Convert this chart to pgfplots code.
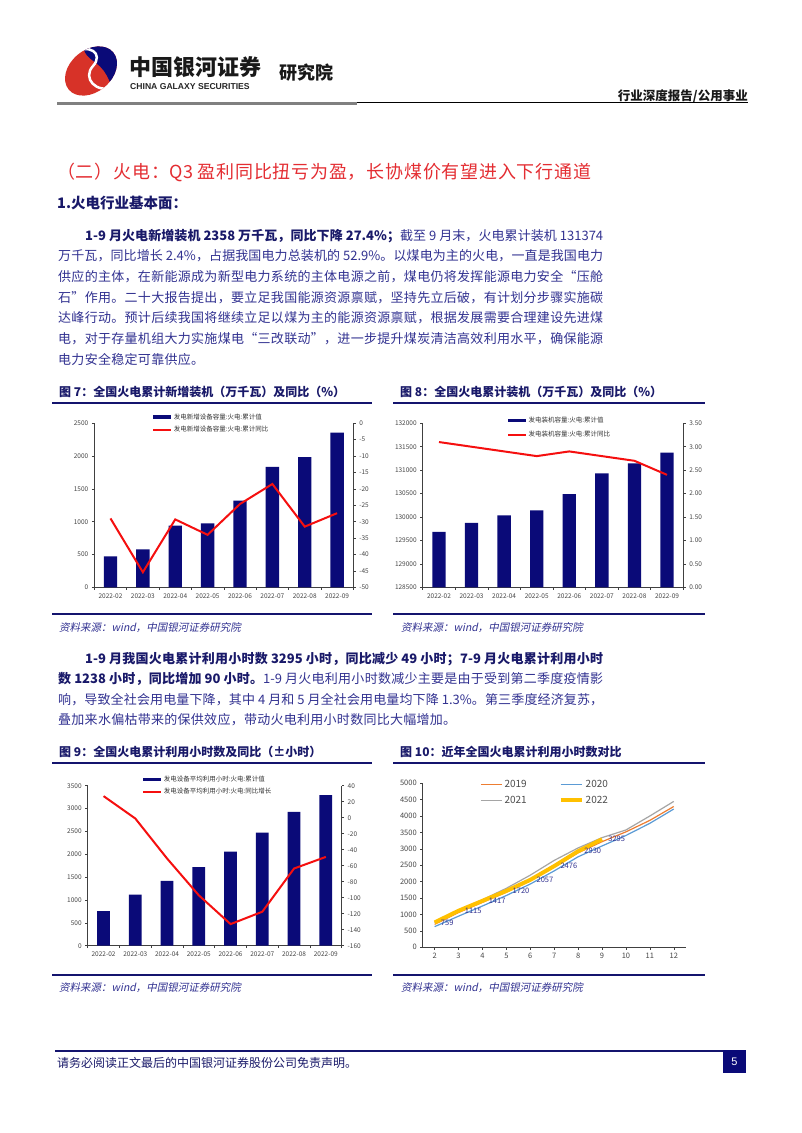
\documentclass[border=0pt]{standalone}
\usepackage{pgfplots}
\pgfplotsset{compat=1.18}
\usepackage{fontspec}
\setmainfont{Noto Sans CJK SC}
\newfontfamily\srcfont[FakeSlant=0.2]{Noto Sans CJK SC}
\newfontfamily\arialfont{Liberation Sans}
% inter-character glue for CJK so lines can be justified
\XeTeXinterchartokenstate=1
\newcount\cc
\cc="3000 \loop\ifnum\cc<"3040 \XeTeXcharclass\cc=1 \advance\cc by 1 \repeat
\cc="4E00 \loop\ifnum\cc<"A000 \XeTeXcharclass\cc=1 \advance\cc by 1 \repeat
\cc="FF00 \loop\ifnum\cc<"FFF0 \XeTeXcharclass\cc=1 \advance\cc by 1 \repeat
\XeTeXcharclass"201C=1 \XeTeXcharclass"201D=1
\XeTeXinterchartoks 1 1 = {\hskip 0pt plus 3pt\relax}
\XeTeXinterchartoks 0 1 = {\hskip 0pt plus 3pt\relax}
\XeTeXinterchartoks 1 0 = {\hskip 0pt plus 3pt\relax}

\definecolor{navybar}{RGB}{10,10,120}
\definecolor{navyline}{RGB}{20,20,110}
\definecolor{bodyblue}{RGB}{50,50,145}
\definecolor{boldblue}{RGB}{25,25,105}
\definecolor{titlered}{RGB}{228,45,50}
\definecolor{ticktext}{RGB}{70,70,70}
\definecolor{logored}{RGB}{215,50,40}
\definecolor{linered}{RGB}{245,15,15}
\definecolor{c2019}{RGB}{237,125,49}
\definecolor{c2020}{RGB}{91,155,213}
\definecolor{c2021}{RGB}{165,165,165}
\definecolor{c2022}{RGB}{255,192,0}

\pgfplotsset{
  rep/.style={
    scale only axis,
    tick label style={font=\fontsize{6.5}{7}\selectfont, text=ticktext},
    /pgf/number format/assume math mode=true,
    /pgf/number format/1000 sep={},
    scaled y ticks=false,
    axis line style={draw=black!75, line width=0.6pt},
    every tick/.style={draw=black!75, line width=0.5pt},
    major tick length=2.5pt,
    tick align=outside,
  },
  catx/.style={xmin=-0.5, xmax=7.5, xtick={-0.5,0.5,...,7.5}, x tick label as interval,
    xticklabels={2022-02,2022-03,2022-04,2022-05,2022-06,2022-07,2022-08,2022-09}},
  leg/.style={legend style={at={#1}, anchor=north west, draw=none, fill=none,
    font=\fontsize{6.5}{7}\selectfont, text=black!80, row sep=2.5pt, inner sep=0pt,
    nodes={inner sep=1.5pt}}, legend cell align=left},
  barleg/.style={legend image code/.code={\fill[navybar] (0pt,-1.6pt) rectangle (18pt,1.6pt);}},
  lineleg/.style={legend image code/.code={\draw[linered, line width=2pt] (0pt,0pt) -- (18pt,0pt);}},
}
\newcommand\bodyfs{\fontsize{13}{13}\selectfont}

\begin{document}
\begin{tikzpicture}[x=1pt,y=-1pt]
\fill[white] (0,0) rectangle (802,1133);

% ---------- header ----------
\begin{scope}
 \clip[rotate around={40:(91,71)}] (91,71) ellipse [x radius=29, y radius=21];
 \fill[logored] (55,35) rectangle (130,105);
 \fill[navybar] (86,38) -- (130,38) -- (130,105) -- (114,105) .. controls (113,86) and (108,72) .. (96,63) .. controls (86,56) and (80,50) .. (86,38) -- cycle;
 \draw[white, line width=2.5pt] (70,54) .. controls (90,42) and (104,54) .. (93,66) .. controls (82,78) and (96,94) .. (114,87);
\end{scope}
\node[anchor=base west, inner sep=0, text=black!90] at (129,75.5) {\fontsize{22}{22}\selectfont\bfseries 中国银河证券};
\node[anchor=base west, inner sep=0, text=black!85] at (130,89.5) {\arialfont\bfseries\fontsize{8.6}{9}\selectfont CHINA GALAXY SECURITIES};
\node[anchor=base west, inner sep=0, text=black!90] at (279,79) {\fontsize{18}{18}\selectfont\bfseries 研究院};
\node[anchor=base east, inner sep=0, text=black!90] at (748,100) {\fontsize{12.5}{13}\selectfont\bfseries 行业深度报告/公用事业};
\draw[black!50, line width=3pt] (57,103.5) -- (357,103.5);
\draw[black, line width=1.5pt] (357,102.5) -- (748,102.5);

% ---------- section title and paragraph 1 ----------
\node[anchor=base west, inner sep=0, text=titlered] at (57,178.8) {\fontsize{18}{18}\selectfont\hbox to 534pt{（二）火电：Q3 盈利同比扭亏为盈，长协煤价有望进入下行通道}};
\node[anchor=base west, inner sep=0, text=boldblue] at (57,208.5) {\fontsize{14.5}{15}\selectfont\bfseries 1.火电行业基本面：};

\node[anchor=base west, inner sep=0, text=bodyblue] at (85,240) {\bodyfs\hbox to 518pt{{\color{boldblue}\bfseries 1-9 月火电新增装机 2358 万千瓦，同比下降 27.4\%；}截至 9 月末，火电累计装机 131374}};
\node[anchor=base west, inner sep=0, text=bodyblue] at (58,260.7) {\bodyfs\hbox to 545pt{万千瓦，同比增长 2.4\%，占据我国电力总装机的 52.9\%。以煤电为主的火电，一直是我国电力}};
\node[anchor=base west, inner sep=0, text=bodyblue] at (58,281.4) {\bodyfs\hbox to 545pt{供应的主体，在新能源成为新型电力系统的主体电源之前，煤电仍将发挥能源电力安全“压舱}};
\node[anchor=base west, inner sep=0, text=bodyblue] at (58,302.1) {\bodyfs\hbox to 545pt{石”作用。二十大报告提出，要立足我国能源资源禀赋，坚持先立后破，有计划分步骤实施碳}};
\node[anchor=base west, inner sep=0, text=bodyblue] at (58,322.8) {\bodyfs\hbox to 545pt{达峰行动。预计后续我国将继续立足以煤为主的能源资源禀赋，根据发展需要合理建设先进煤}};
\node[anchor=base west, inner sep=0, text=bodyblue] at (58,343.5) {\bodyfs\hbox to 545pt{电，对于存量机组大力实施煤电“三改联动”，进一步提升煤炭清洁高效利用水平，确保能源}};
\node[anchor=base west, inner sep=0, text=bodyblue] at (58,364.2) {\bodyfs\hbox spread 3pt{电力安全稳定可靠供应。}};

% ---------- chart frames row 1 ----------
\node[anchor=base west, inner sep=0, text=boldblue] at (59,396.6) {\fontsize{12}{12}\selectfont\bfseries 图 7：全国火电累计新增装机（万千瓦）及同比（\%）};
\node[anchor=base west, inner sep=0, text=boldblue] at (400,396.6) {\fontsize{12}{12}\selectfont\bfseries 图 8：全国火电累计装机（万千瓦）及同比（\%）};
\draw[navyline, line width=2pt] (52,403) -- (372,403);
\draw[navyline, line width=2pt] (393,403) -- (705,403);
\draw[navyline, line width=2pt] (52,614) -- (372,614);
\draw[navyline, line width=2pt] (393,614) -- (705,614);
\node[anchor=base west, inner sep=0, text=bodyblue] at (59,631) {\srcfont\fontsize{10.5}{11}\selectfont 资料来源：wind，中国银河证券研究院};
\node[anchor=base west, inner sep=0, text=bodyblue] at (401,631) {\srcfont\fontsize{10.5}{11}\selectfont 资料来源：wind，中国银河证券研究院};

% ---------- chart 7 ----------
\begin{axis}[rep, catx, at={(94.3pt,-587.3pt)}, anchor=south west, width=259pt, height=164pt,
  ymin=0, ymax=2500, ytick={0,500,...,2500}, axis x line*=bottom, axis y line*=left,
  ybar, bar width=13.3pt, leg={(0.223,1.07)}]
\addplot[fill=navybar, draw=none, barleg] coordinates {(0,470) (1,580) (2,940) (3,975) (4,1320) (5,1835) (6,1985) (7,2358)};
\addlegendentry{发电新增设备容量:火电:累计值}
\addlegendimage{lineleg}
\addlegendentry{发电新增设备容量:火电:累计同比}
\end{axis}
\begin{axis}[rep, at={(94.3pt,-587.3pt)}, anchor=south west, width=259pt, height=164pt,
  xmin=-0.5, xmax=7.5, ymin=-50, ymax=0, ytick={-50,-45,...,0},
  axis y line*=right, axis x line=none]
\addplot[linered, line width=2pt, mark=none] coordinates {(0,-29) (1,-45.4) (2,-29.3) (3,-34) (4,-24.6) (5,-18.5) (6,-31.5) (7,-27.4)};
\end{axis}

% ---------- chart 8 ----------
\begin{axis}[rep, catx, at={(422.7pt,-587.3pt)}, anchor=south west, width=260.6pt, height=164pt,
  ymin=128500, ymax=132000, ytick={128500,129000,...,132000}, axis x line*=bottom, axis y line*=left,
  yticklabel style={/pgf/number format/.cd, fixed, precision=0},
  ybar, bar width=13.3pt, leg={(0.323,1.05)}, legend style={row sep=4.5pt}]
\addplot[fill=navybar, draw=none, barleg] coordinates {(0,129681) (1,129873) (2,130036) (3,130143) (4,130491) (5,130932) (6,131146) (7,131374)};
\addlegendentry{发电装机容量:火电:累计值}
\addlegendimage{lineleg}
\addlegendentry{发电装机容量:火电:累计同比}
\end{axis}
\begin{axis}[rep, at={(422.7pt,-587.3pt)}, anchor=south west, width=260.6pt, height=164pt,
  xmin=-0.5, xmax=7.5, ymin=0, ymax=3.5, ytick={0,0.5,...,3.5},
  yticklabel style={/pgf/number format/.cd, fixed, fixed zerofill, precision=2},
  axis y line*=right, axis x line=none]
\addplot[linered, line width=2pt, mark=none] coordinates {(0,3.1) (1,3.0) (2,2.9) (3,2.8) (4,2.9) (5,2.8) (6,2.7) (7,2.4)};
\end{axis}

% ---------- paragraph 2 ----------
\node[anchor=base west, inner sep=0, text=boldblue] at (85,663) {\bodyfs\bfseries\hbox to 518pt{1-9 月我国火电累计利用小时数 3295 小时，同比减少 49 小时；7-9 月火电累计利用小时}};
\node[anchor=base west, inner sep=0, text=bodyblue] at (58,683.5) {\bodyfs\hbox to 545pt{{\color{boldblue}\bfseries 数 1238 小时，同比增加 90 小时。}1-9 月火电利用小时数减少主要是由于受到第二季度疫情影}};
\node[anchor=base west, inner sep=0, text=bodyblue] at (58,704) {\bodyfs\hbox to 545pt{响，导致全社会用电量下降，其中 4 月和 5 月全社会用电量均下降 1.3\%。第三季度经济复苏，}};
\node[anchor=base west, inner sep=0, text=bodyblue] at (58,724.5) {\bodyfs\hbox spread 8pt{叠加来水偏枯带来的保供效应，带动火电利用小时数同比大幅增加。}};

% ---------- chart frames row 2 ----------
\node[anchor=base west, inner sep=0, text=boldblue] at (59,756.6) {\fontsize{12}{12}\selectfont\bfseries 图 9：全国火电累计利用小时数及同比（±小时）};
\node[anchor=base west, inner sep=0, text=boldblue] at (400,756.6) {\fontsize{12}{12}\selectfont\bfseries 图 10：近年全国火电累计利用小时数对比};
\draw[navyline, line width=2pt] (52,763) -- (372,763);
\draw[navyline, line width=2pt] (393,763) -- (705,763);
\draw[navyline, line width=2pt] (52,975) -- (372,975);
\draw[navyline, line width=2pt] (393,975) -- (705,975);
\node[anchor=base west, inner sep=0, text=bodyblue] at (59,991) {\srcfont\fontsize{10.5}{11}\selectfont 资料来源：wind，中国银河证券研究院};
\node[anchor=base west, inner sep=0, text=bodyblue] at (401,991) {\srcfont\fontsize{10.5}{11}\selectfont 资料来源：wind，中国银河证券研究院};

% ---------- chart 9 ----------
\begin{axis}[rep, catx, at={(87.7pt,-945.7pt)}, anchor=south west, width=254pt, height=160pt,
  ymin=0, ymax=3500, ytick={0,500,...,3500}, axis x line*=bottom, axis y line*=left,
  ybar, bar width=12.7pt, leg={(0.214,1.073)}]
\addplot[fill=navybar, draw=none, barleg] coordinates {(0,759) (1,1115) (2,1417) (3,1720) (4,2057) (5,2476) (6,2930) (7,3295)};
\addlegendentry{发电设备平均利用小时:火电:累计值}
\addlegendimage{lineleg}
\addlegendentry{发电设备平均利用小时:火电:同比增长}
\end{axis}
\begin{axis}[rep, at={(87.7pt,-945.7pt)}, anchor=south west, width=254pt, height=160pt,
  xmin=-0.5, xmax=7.5, ymin=-160, ymax=40, ytick={-160,-140,...,40},
  axis y line*=right, axis x line=none]
\addplot[linered, line width=2pt, mark=none] coordinates {(0,27) (1,-1) (2,-51) (3,-97) (4,-133) (5,-117.5) (6,-63.5) (7,-49)};
\end{axis}

% ---------- chart 10 ----------
\begin{axis}[rep, at={(422.7pt,-947.3pt)}, anchor=south west, width=263pt, height=164pt,
  xmin=1.5, xmax=12.5, xtick={2,...,12}, ymin=0, ymax=5000, ytick={0,500,...,5000},
  axis x line*=bottom, axis y line*=left,
  tick label style={font=\fontsize{7.5}{8}\selectfont},
  legend image code/.code={\draw[#1] (0pt,0pt) -- (21pt,0pt);},
  legend style={at={(0.207,1.045)}, anchor=north west, draw=none, fill=none,
    font=\fontsize{10}{10}\selectfont, text=black!70, legend columns=2, row sep=3pt,
    /tikz/every even column/.append style={column sep=30pt}},
  legend cell align=left]
\addplot[c2019, line width=1.2pt, mark=none] coordinates {(2,700) (3,1060) (4,1370) (5,1680) (6,2040) (7,2450) (8,2880) (9,3220) (10,3520) (11,3870) (12,4293)};
\addlegendentry{2019}
\addplot[c2020, line width=1.2pt, mark=none] coordinates {(2,630) (3,950) (4,1260) (5,1580) (6,1930) (7,2330) (8,2760) (9,3090) (10,3410) (11,3780) (12,4216)};
\addlegendentry{2020}
\addplot[c2021, line width=1.2pt, mark=none] coordinates {(2,750) (3,1100) (4,1450) (5,1800) (6,2200) (7,2650) (8,3030) (9,3344) (10,3577) (11,4004) (12,4448)};
\addlegendentry{2021}
\addplot[c2022, line width=4pt, mark=none, nodes near coords,
  every node near coord/.append style={anchor=west, font=\fontsize{7.5}{8}\selectfont, text=bodyblue, xshift=3pt, line width=0pt}]
  coordinates {(2,759) (3,1115) (4,1417) (5,1720) (6,2057) (7,2476) (8,2930) (9,3295)};
\addlegendentry{2022}
\end{axis}

% ---------- footer ----------
\draw[navyline, line width=1.5pt] (55,1051) -- (723,1051);
\fill[navybar] (723,1050.3) rectangle (746,1072.7);
\node[text=white, inner sep=0] at (734.5,1061.5) {\arialfont\fontsize{11}{11}\selectfont 5};
\node[anchor=base west, inner sep=0, text=boldblue] at (57,1067) {\fontsize{12}{12}\selectfont 请务必阅读正文最后的中国银河证券股份公司免责声明。};
\end{tikzpicture}
\end{document}
